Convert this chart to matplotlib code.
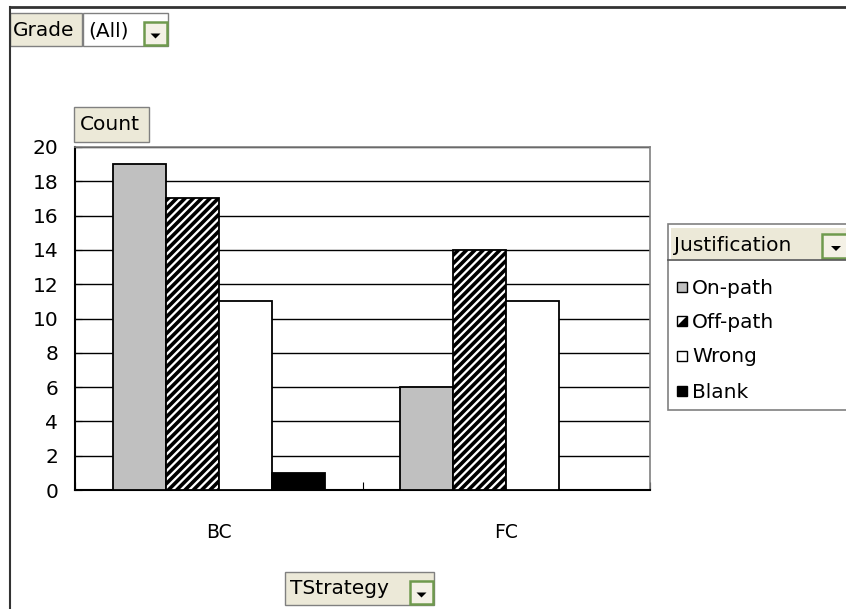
import matplotlib
matplotlib.use("Agg")
import matplotlib.pyplot as plt
from matplotlib.patches import Rectangle, Polygon
from matplotlib.lines import Line2D
import numpy as np

plt.rcParams['hatch.linewidth'] = 2.6
plt.rcParams['font.family'] = ['DejaVu Sans']

# data
categories = ["BC", "FC"]
series_names = ["On-path", "Off-path", "Wrong", "Blank"]
on_path = [19, 6]
off_path = [17, 14]
wrong = [11, 11]
blank = [1, 0]

series_values = [on_path, off_path, wrong, blank]
fills = ["#c0c0c0", "white", "white", "black"]
hatches = [None, "////", None, None]

W, H = 846, 609
fig = plt.figure(figsize=(W / 100, H / 100), dpi=100)
ax = fig.add_axes([75 / W, 1 - 490 / H, (650 - 75) / W, (490 - 147) / H])

fs = 14.5
x = np.arange(len(categories))
w = 53 / 288
for k, (vals, fc, hatch) in enumerate(zip(series_values, fills, hatches)):
    ax.bar(x + (k - 1.5) * w, vals, w, color=fc, edgecolor="black",
           linewidth=1.3, hatch=hatch, zorder=3)

ax.set_xlim(-0.5, len(categories) - 0.5)
ax.set_ylim(0, 20)
ax.set_yticks(range(0, 21, 2))
ax.yaxis.grid(True, color="black", linewidth=1, zorder=0)
ax.set_axisbelow(True)
ax.tick_params(axis="y", direction="in", length=5, pad=12, labelsize=fs)

ax.set_xticks(np.arange(-0.5, len(categories)))
ax.set_xticklabels([])
ax.set_xticks(x, minor=True)
ax.set_xticklabels(categories, minor=True)
ax.tick_params(axis="x", which="major", direction="in", length=6)
ax.tick_params(axis="x", which="minor", length=0, pad=24, labelsize=fs - 1)

for s in ["left", "bottom"]:
    ax.spines[s].set_color("black")
    ax.spines[s].set_linewidth(1.5)
for s in ["top", "right"]:
    ax.spines[s].set_color("#808080")
    ax.spines[s].set_linewidth(1.2)


def rect(x0, y0, x1, y1, **kw):
    r = Rectangle((x0 / W, 1 - y1 / H), (x1 - x0) / W, (y1 - y0) / H,
                  transform=fig.transFigure, **kw)
    fig.add_artist(r)
    return r


def label(xp, yp, s, **kw):
    fig.text(xp / W, 1 - yp / H, s, fontsize=fs, va="center", ha="left", **kw)


def dropdown(x0, y0, x1, y1):
    rect(x0, y0, x1, y1, facecolor="#f4f1e6", edgecolor="#6f9a4e", linewidth=1.8)
    cx, cy = (x0 + x1) / 2, (y0 + y1) / 2 + 2
    tri = Polygon([((cx - 5) / W, 1 - (cy - 2) / H), ((cx + 5) / W, 1 - (cy - 2) / H),
                   (cx / W, 1 - (cy + 3) / H)], closed=True, facecolor="black",
                  transform=fig.transFigure)
    fig.add_artist(tri)


beige = "#ece9d8"

# outer frame
fig.add_artist(Line2D([10 / W, 10 / W], [1 - 7 / H, 0], color="#333333", lw=1.5,
                      transform=fig.transFigure))
fig.add_artist(Line2D([10 / W, 1], [1 - 7 / H, 1 - 7 / H], color="#333333", lw=2,
                      transform=fig.transFigure))

# page field
rect(10, 13, 82, 46, facecolor=beige, edgecolor="#808080", linewidth=1)
label(13, 31, "Grade")
rect(83, 13, 168, 46, facecolor="white", edgecolor="#808080", linewidth=1)
label(88, 31, "(All)")
dropdown(144, 22, 167, 45)

# data field
rect(74, 107, 149, 142, facecolor=beige, edgecolor="#808080", linewidth=1)
label(80, 125, "Count")

# category field
rect(285, 572, 434, 605, facecolor=beige, edgecolor="#808080", linewidth=1)
label(290, 589, "TStrategy")
dropdown(410, 581, 433, 604)

# legend / series field
rect(668, 224, 860, 410, facecolor="white", edgecolor="#808080", linewidth=1.2)
rect(671, 228, 860, 259, facecolor=beige, edgecolor="none")
fig.add_artist(Line2D([668 / W, 1], [1 - 260 / H, 1 - 260 / H], color="#555555",
                      lw=1.2, transform=fig.transFigure))
label(674, 245, "Justification")
dropdown(822, 234, 850, 258)

ys = [287, 321, 356, 391]
for name, fc, yc in zip(series_names, fills, ys):
    rect(677, yc - 5, 687, yc + 5, facecolor=fc, edgecolor="black", linewidth=1)
    if name == "Off-path":
        half = Polygon([(687 / W, 1 - (yc - 5) / H), (687 / W, 1 - (yc + 5) / H),
                        (677 / W, 1 - (yc + 5) / H)], closed=True, facecolor="black",
                       transform=fig.transFigure)
        fig.add_artist(half)
    label(692, yc + 1, name)

fig.savefig("out.png", dpi=100)
